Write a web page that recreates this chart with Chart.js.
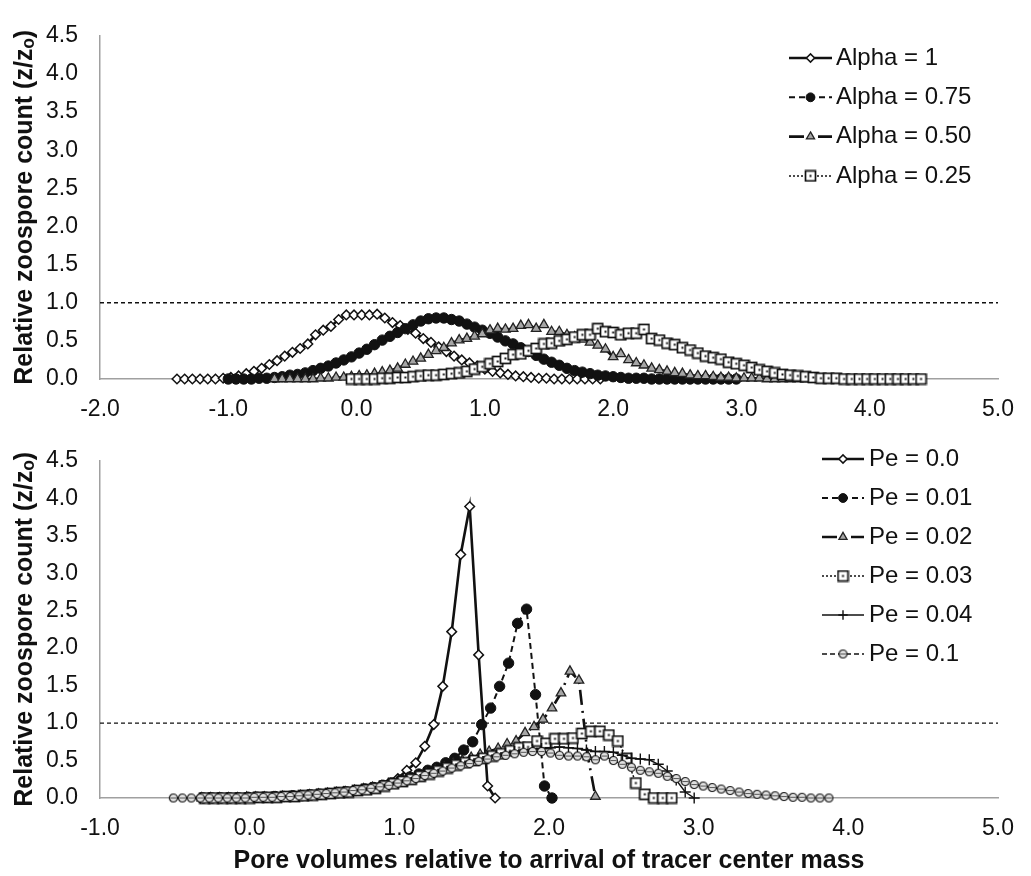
<!DOCTYPE html>
<html>
<head>
<meta charset="utf-8">
<script src="https://cdn.jsdelivr.net/npm/chart.js@4.4.1/dist/chart.umd.min.js"></script>
<style>
  html, body { margin: 0; padding: 0; background: #fff; }
  #wrap { position: relative; width: 1031px; height: 876px; }
  #topBox { position: absolute; left: 0; top: 0; width: 1031px; height: 425px; }
  #bottomBox { position: absolute; left: 0; top: 425px; width: 1031px; height: 451px; }
</style>
</head>
<body>
<div id="wrap">
  <div id="topBox"><canvas id="topChart" width="1031" height="425"></canvas></div>
  <div id="bottomBox"><canvas id="bottomChart" width="1031" height="451"></canvas></div>
</div>
<script>
// ---- top panel: effect of alpha ----
const alphaLabels = ['Alpha = 1', 'Alpha = 0.75', 'Alpha = 0.50', 'Alpha = 0.25'];

const alpha100X = [-1.40,-1.34,-1.28,-1.22,-1.16,-1.10,-1.04,-0.98,-0.92,-0.86,
  -0.80,-0.74,-0.68,-0.62,-0.56,-0.50,-0.44,-0.38,-0.32,-0.26,
  -0.20,-0.14,-0.08,-0.02,0.04,0.10,0.16,0.22,0.28,0.34,
  0.40,0.46,0.52,0.58,0.64,0.70,0.76,0.82,0.88,0.94,
  1.00,1.06,1.12,1.18,1.24,1.30,1.36,1.42,1.48,1.54,
  1.60,1.66,1.72,1.78,1.84,1.90];
const alpha100Y = [0,0,0,0,0,0,0.01,0.02,0.04,0.07,
  0.10,0.14,0.19,0.24,0.30,0.35,0.40,0.46,0.58,0.64,
  0.69,0.78,0.84,0.84,0.84,0.84,0.85,0.80,0.74,0.70,
  0.65,0.60,0.53,0.48,0.42,0.36,0.30,0.25,0.21,0.17,
  0.13,0.10,0.08,0.06,0.04,0.03,0.02,0.01,0.01,0,
  0,0,0,0,0,0];

const alpha075X = [-1.00,-0.94,-0.88,-0.82,-0.76,-0.70,-0.64,-0.58,-0.52,-0.46,
  -0.40,-0.34,-0.28,-0.22,-0.16,-0.10,-0.04,0.02,0.08,0.14,
  0.20,0.26,0.32,0.38,0.44,0.50,0.56,0.62,0.68,0.74,
  0.80,0.86,0.92,0.98,1.04,1.10,1.16,1.22,1.28,1.34,
  1.40,1.46,1.52,1.58,1.64,1.70,1.76,1.82,1.88,1.94,
  2.00,2.06,2.12,2.18,2.24,2.30,2.36,2.42,2.48,2.54,
  2.60,2.66,2.72,2.78,2.84,2.90,2.96];
const alpha075Y = [0,0,0,0,0.01,0.01,0.02,0.03,0.05,0.06,
  0.08,0.11,0.14,0.17,0.21,0.25,0.29,0.34,0.39,0.45,
  0.51,0.56,0.61,0.66,0.71,0.76,0.79,0.80,0.80,0.78,
  0.76,0.72,0.68,0.64,0.60,0.55,0.50,0.46,0.41,0.36,
  0.31,0.26,0.22,0.18,0.14,0.11,0.09,0.07,0.05,0.04,
  0.03,0.02,0.01,0.01,0.01,0,0,0,0,0,
  0,0,0,0,0,0,0];

const alpha050X = [-0.64,-0.58,-0.52,-0.46,-0.40,-0.34,-0.28,-0.22,-0.16,-0.10,
  -0.04,0.02,0.08,0.14,0.20,0.26,0.32,0.38,0.44,0.50,
  0.56,0.62,0.68,0.74,0.80,0.86,0.92,0.98,1.04,1.10,
  1.16,1.22,1.28,1.34,1.40,1.46,1.52,1.58,1.64,1.70,
  1.76,1.82,1.88,1.94,2.00,2.06,2.12,2.18,2.24,2.30,
  2.36,2.42,2.48,2.54,2.60,2.66,2.72,2.78,2.84,2.90,
  2.96,3.02,3.08,3.14,3.20,3.26,3.32,3.38,3.44,3.50,
  3.56];
const alpha050Y = [0,0,0,0,0,0,0.01,0.01,0.02,0.02,
  0.03,0.04,0.05,0.07,0.09,0.11,0.14,0.19,0.23,0.27,
  0.32,0.37,0.41,0.47,0.51,0.53,0.56,0.59,0.64,0.66,
  0.65,0.66,0.70,0.71,0.66,0.71,0.62,0.62,0.58,0.55,
  0.52,0.48,0.44,0.39,0.29,0.33,0.25,0.21,0.18,0.14,
  0.12,0.10,0.08,0.07,0.05,0.04,0.04,0.03,0.02,0.02,
  0.01,0.01,0.01,0.01,0,0,0,0,0,0,
  0];

const alpha025X = [-0.04,0.02,0.08,0.14,0.20,0.26,0.32,0.38,0.44,0.50,
  0.56,0.62,0.68,0.74,0.80,0.86,0.92,0.98,1.04,1.10,
  1.16,1.22,1.28,1.34,1.40,1.46,1.52,1.58,1.64,1.70,
  1.76,1.82,1.88,1.94,2.00,2.06,2.12,2.18,2.24,2.30,
  2.36,2.42,2.48,2.54,2.60,2.66,2.72,2.78,2.84,2.90,
  2.96,3.02,3.08,3.14,3.20,3.26,3.32,3.38,3.44,3.50,
  3.56,3.62,3.68,3.74,3.80,3.86,3.92,3.98,4.04,4.10,
  4.16,4.22,4.28,4.34,4.40];
const alpha025Y = [0,0,0,0,0.01,0.01,0.02,0.02,0.03,0.04,
  0.05,0.05,0.06,0.07,0.08,0.10,0.13,0.16,0.20,0.23,
  0.27,0.32,0.33,0.37,0.40,0.46,0.47,0.50,0.52,0.55,
  0.58,0.58,0.66,0.62,0.61,0.58,0.60,0.60,0.65,0.53,
  0.51,0.47,0.45,0.41,0.38,0.34,0.30,0.28,0.26,0.22,
  0.20,0.18,0.15,0.12,0.10,0.08,0.06,0.05,0.04,0.03,
  0.02,0.01,0.01,0.01,0,0,0,0,0,0,
  0,0,0,0,0];

// ---- bottom panel: effect of Pe ----
const peLabels = ['Pe = 0.0', 'Pe = 0.01', 'Pe = 0.02', 'Pe = 0.03', 'Pe = 0.04', 'Pe = 0.1'];

const pe000X = [-0.33,-0.27,-0.21,-0.15,-0.09,-0.03,0.03,0.09,0.15,0.21,
  0.27,0.33,0.39,0.45,0.51,0.57,0.63,0.69,0.75,0.81,
  0.87,0.93,0.99,1.05,1.11,1.17,1.23,1.29,1.35,1.41,
  1.47,1.53,1.59,1.64];
const pe000Y = [0,0,0,0,0,0,0.01,0.01,0.01,0.02,
  0.02,0.03,0.04,0.05,0.06,0.07,0.09,0.10,0.12,0.14,
  0.16,0.20,0.26,0.37,0.47,0.69,0.98,1.49,2.22,3.25,
  3.89,1.91,0.16,0];

const pe001X = [-0.31,-0.25,-0.19,-0.13,-0.07,-0.01,0.05,0.11,0.17,0.23,
  0.29,0.35,0.41,0.47,0.53,0.59,0.65,0.71,0.77,0.83,
  0.89,0.95,1.01,1.07,1.13,1.19,1.25,1.31,1.37,1.43,
  1.49,1.55,1.61,1.67,1.73,1.79,1.85,1.91,1.97,2.02];
const pe001Y = [0,0,0,0,0,0.01,0.01,0.01,0.02,0.02,
  0.03,0.03,0.04,0.05,0.06,0.07,0.08,0.10,0.12,0.14,
  0.17,0.20,0.24,0.28,0.32,0.37,0.41,0.47,0.53,0.64,
  0.75,0.98,1.20,1.49,1.80,2.33,2.52,1.38,0.16,0];

const pe002X = [-0.32,-0.26,-0.20,-0.14,-0.08,-0.02,0.04,0.10,0.16,0.22,
  0.28,0.34,0.40,0.46,0.52,0.58,0.64,0.70,0.76,0.82,
  0.88,0.94,1.00,1.06,1.12,1.18,1.24,1.30,1.36,1.42,
  1.48,1.54,1.60,1.66,1.72,1.78,1.84,1.90,1.96,2.02,
  2.08,2.14,2.20,2.26,2.31];
const pe002Y = [0,0,0,0,0,0.01,0.01,0.01,0.01,0.02,
  0.02,0.03,0.04,0.05,0.06,0.07,0.08,0.10,0.12,0.14,
  0.16,0.19,0.22,0.26,0.29,0.33,0.37,0.41,0.46,0.50,
  0.54,0.58,0.62,0.66,0.72,0.76,0.87,0.95,1.05,1.20,
  1.40,1.69,1.57,0.55,0.02];

const pe003X = [-0.30,-0.24,-0.18,-0.12,-0.06,0.00,0.06,0.12,0.18,0.24,
  0.30,0.36,0.42,0.48,0.54,0.60,0.66,0.72,0.78,0.84,
  0.90,0.96,1.02,1.08,1.14,1.20,1.26,1.32,1.38,1.44,
  1.50,1.56,1.62,1.68,1.74,1.80,1.86,1.92,1.98,2.04,
  2.10,2.16,2.22,2.28,2.34,2.40,2.46,2.52,2.58,2.64,
  2.70,2.76,2.82];
const pe003Y = [0,0,0,0,0,0,0.01,0.01,0.01,0.02,
  0.02,0.03,0.04,0.05,0.06,0.07,0.08,0.10,0.11,0.13,
  0.16,0.19,0.22,0.25,0.29,0.32,0.36,0.40,0.44,0.47,
  0.50,0.53,0.56,0.59,0.63,0.67,0.68,0.76,0.73,0.79,
  0.79,0.80,0.86,0.89,0.89,0.84,0.76,0.53,0.20,0.05,
  0,0,0];

const pe004X = [-0.33,-0.27,-0.21,-0.15,-0.09,-0.03,0.03,0.09,0.15,0.21,
  0.27,0.33,0.39,0.45,0.51,0.57,0.63,0.69,0.75,0.81,
  0.87,0.93,0.99,1.05,1.11,1.17,1.23,1.29,1.35,1.41,
  1.47,1.53,1.59,1.65,1.71,1.77,1.83,1.89,1.95,2.01,
  2.07,2.13,2.19,2.25,2.31,2.37,2.43,2.49,2.55,2.61,
  2.67,2.73,2.79,2.85,2.91,2.97];
const pe004Y = [0,0,0,0,0,0,0.01,0.01,0.01,0.02,
  0.02,0.03,0.04,0.05,0.06,0.07,0.08,0.10,0.11,0.13,
  0.15,0.18,0.21,0.24,0.27,0.31,0.34,0.38,0.42,0.45,
  0.49,0.52,0.55,0.57,0.60,0.62,0.64,0.65,0.66,0.67,
  0.68,0.67,0.66,0.64,0.62,0.62,0.61,0.57,0.53,0.52,
  0.51,0.45,0.36,0.24,0.08,0];

const pe010X = [-0.51,-0.45,-0.39,-0.33,-0.27,-0.21,-0.15,-0.09,-0.03,0.03,
  0.09,0.15,0.21,0.27,0.33,0.39,0.45,0.51,0.57,0.63,
  0.69,0.75,0.81,0.87,0.93,0.99,1.05,1.11,1.17,1.23,
  1.29,1.35,1.41,1.47,1.53,1.59,1.65,1.71,1.77,1.83,
  1.89,1.95,2.01,2.07,2.13,2.19,2.25,2.31,2.37,2.43,
  2.49,2.55,2.61,2.67,2.73,2.79,2.85,2.91,2.97,3.03,
  3.09,3.15,3.21,3.27,3.33,3.39,3.45,3.51,3.57,3.63,
  3.69,3.75,3.81,3.87];
const pe010Y = [0,0,0,0,0,0,0,0,0,0.01,
  0.01,0.01,0.02,0.02,0.03,0.04,0.05,0.06,0.07,0.08,
  0.10,0.11,0.13,0.15,0.17,0.20,0.23,0.26,0.30,0.33,
  0.36,0.40,0.43,0.46,0.49,0.52,0.55,0.57,0.59,0.61,
  0.62,0.62,0.60,0.57,0.56,0.56,0.55,0.51,0.56,0.50,
  0.45,0.41,0.37,0.35,0.33,0.29,0.26,0.22,0.18,0.16,
  0.14,0.12,0.10,0.08,0.06,0.05,0.04,0.03,0.02,0.01,
  0.01,0,0,0];

// axis ranges and the reference level
const topRange = [-2, 5];
const bottomRange = [-1, 5];
const yRange = [0, 4.5];
const refLevel = 1;

const FONT = "Arial, 'Liberation Sans', sans-serif";
const ink = '#111111';
Chart.defaults.font.family = FONT;

// little marker pictures Chart.js has no built-in shape for
function boxWithDot() {
  const c = document.createElement('canvas');
  c.width = 13; c.height = 13;
  const g = c.getContext('2d');
  g.fillStyle = '#fff';
  g.fillRect(1.5, 1.5, 10, 10);
  g.strokeStyle = ink; g.lineWidth = 1.7;
  g.strokeRect(1.5, 1.5, 10, 10);
  g.fillStyle = ink;
  g.fillRect(5.5, 5.5, 2, 2);
  return c;
}
function ringWithBar() {
  const c = document.createElement('canvas');
  c.width = 11; c.height = 11;
  const g = c.getContext('2d');
  g.beginPath(); g.arc(5.5, 5.5, 4, 0, Math.PI * 2);
  g.fillStyle = '#e0e0e0'; g.fill();
  g.strokeStyle = '#111'; g.lineWidth = 1.2; g.stroke();
  g.beginPath(); g.moveTo(2.5, 5.5); g.lineTo(8.5, 5.5);
  g.strokeStyle = '#555'; g.lineWidth = 1; g.stroke();
  return c;
}

const looks = {
  diamond: { pointStyle: 'rectRot', pointRadius: 4.8, pointBackgroundColor: '#fff', pointBorderColor: ink, pointBorderWidth: 1.5, borderColor: ink, borderWidth: 2.6, borderDash: [] },
  dot:     { pointStyle: 'circle', pointRadius: 5.2, pointBackgroundColor: ink, pointBorderColor: ink, pointBorderWidth: 1, borderColor: ink, borderWidth: 2, borderDash: [6, 4] },
  tri:     { pointStyle: 'triangle', pointRadius: 5.5, pointBackgroundColor: '#a6a6a6', pointBorderColor: '#222', pointBorderWidth: 1.3, borderColor: ink, borderWidth: 2.6, borderDash: [15, 6, 2, 6] },
  box:     { pointStyle: boxWithDot(), pointRadius: 6, pointBackgroundColor: '#fff', pointBorderColor: ink, pointBorderWidth: 1.5, borderColor: ink, borderWidth: 1.5, borderDash: [2, 2] },
  plus:    { pointStyle: 'cross', pointRadius: 5.5, pointBackgroundColor: ink, pointBorderColor: ink, pointBorderWidth: 1.4, borderColor: ink, borderWidth: 1.4, borderDash: [] },
  ring:    { pointStyle: ringWithBar(), pointRadius: 5, pointBackgroundColor: '#e0e0e0', pointBorderColor: ink, pointBorderWidth: 1, borderColor: ink, borderWidth: 1.5, borderDash: [5, 3] }
};

function series(label, xs, ys, look, idx, total) {
  return Object.assign({
    label: label,
    keyLabel: label,
    data: ys.map((y, i) => ({ x: xs[i], y: y })),
    tension: 0,
    fill: false,
    clip: false,
    order: total - idx
  }, look);
}

function refLine(range) {
  return {
    label: 'ref',
    data: [{ x: range[0], y: refLevel }, { x: range[1], y: refLevel }],
    borderColor: ink, borderWidth: 1.3, borderDash: [4, 3],
    pointRadius: 0, fill: false, order: 50
  };
}

// legend drawn inside the plot, line sample + marker + text
const sideKey = {
  id: 'sideKey',
  afterDraw(chart, args, opts) {
    const ctx = chart.ctx;
    let n = 0;
    chart.data.datasets.forEach(ds => {
      if (!ds.keyLabel) return;
      const y = opts.top + n * opts.step;
      n++;
      ctx.save();
      ctx.strokeStyle = ds.borderColor;
      ctx.lineWidth = ds.borderWidth;
      ctx.setLineDash(ds.borderDash || []);
      ctx.beginPath();
      ctx.moveTo(opts.left, y);
      ctx.lineTo(opts.right, y);
      ctx.stroke();
      ctx.setLineDash([]);
      ctx.fillStyle = ds.pointBackgroundColor;
      ctx.strokeStyle = ds.pointBorderColor;
      ctx.lineWidth = ds.pointBorderWidth;
      Chart.helpers.drawPoint(ctx, {
        pointStyle: ds.pointStyle, radius: ds.pointRadius * 0.85,
        borderWidth: ds.pointBorderWidth, rotation: 0
      }, (opts.left + opts.right) / 2, y);
      ctx.fillStyle = ink;
      ctx.font = '24px ' + FONT;
      ctx.textBaseline = 'middle';
      ctx.textAlign = 'left';
      ctx.fillText(ds.keyLabel, opts.textX, y);
      ctx.restore();
    });
  }
};

const tickFont = { family: FONT, size: 23 };
const titleFont = { family: FONT, size: 25, weight: 'bold' };
const axisBorder = { display: true, color: '#a0a0a0', width: 1.5 };

function yAxis() {
  return {
    type: 'linear', min: yRange[0], max: yRange[1],
    ticks: { stepSize: 0.5, callback: v => v.toFixed(1), font: tickFont, color: ink, padding: 22 },
    grid: { display: false, drawTicks: false },
    border: axisBorder,
    title: { display: true, text: 'Relative zoospore count (z/zₒ)', font: titleFont, color: ink, padding: { top: 10, bottom: 0 } },
    afterFit(s) { s.width = 100; }
  };
}

function xAxis(range, height, withTitle) {
  const ax = {
    type: 'linear', min: range[0], max: range[1],
    ticks: { stepSize: 1, callback: v => v.toFixed(1), font: tickFont, color: ink, padding: 17, maxRotation: 0, autoSkip: false },
    grid: { display: false, drawTicks: false },
    border: axisBorder,
    afterFit(s) { s.height = height; }
  };
  if (withTitle) {
    ax.title = { display: true, text: 'Pore volumes relative to arrival of tracer center mass', font: titleFont, color: ink, padding: { top: 0, bottom: 0 } };
  }
  return ax;
}

const topSets = [
  series(alphaLabels[0], alpha100X, alpha100Y, looks.diamond, 0, 4),
  series(alphaLabels[1], alpha075X, alpha075Y, looks.dot, 1, 4),
  series(alphaLabels[2], alpha050X, alpha050Y, looks.tri, 2, 4),
  series(alphaLabels[3], alpha025X, alpha025Y, looks.box, 3, 4),
  refLine(topRange)
];

const bottomSets = [
  series(peLabels[0], pe000X, pe000Y, looks.diamond, 0, 6),
  series(peLabels[1], pe001X, pe001Y, looks.dot, 1, 6),
  series(peLabels[2], pe002X, pe002Y, looks.tri, 2, 6),
  series(peLabels[3], pe003X, pe003Y, looks.box, 3, 6),
  series(peLabels[4], pe004X, pe004Y, looks.plus, 4, 6),
  series(peLabels[5], pe010X, pe010Y, looks.ring, 5, 6),
  refLine(bottomRange)
];

new Chart(document.getElementById('topChart').getContext('2d'), {
  type: 'line',
  data: { datasets: topSets },
  options: {
    responsive: false,
    animation: false,
    layout: { padding: { top: 25, right: 19, left: 0, bottom: 0 } },
    scales: { x: xAxis(topRange, 46, false), y: yAxis() },
    plugins: {
      legend: { display: false },
      tooltip: { enabled: false },
      sideKey: { left: 789, right: 832, textX: 836, top: 58, step: 39.3 }
    }
  },
  plugins: [sideKey]
});

new Chart(document.getElementById('bottomChart').getContext('2d'), {
  type: 'line',
  data: { datasets: bottomSets },
  options: {
    responsive: false,
    animation: false,
    layout: { padding: { top: 14, right: 19, left: 0, bottom: 0 } },
    scales: { x: xAxis(bottomRange, 78, true), y: yAxis() },
    plugins: {
      legend: { display: false },
      tooltip: { enabled: false },
      sideKey: { left: 822, right: 864, textX: 869, top: 34, step: 39 }
    }
  },
  plugins: [sideKey]
});
</script>
</body>
</html>
